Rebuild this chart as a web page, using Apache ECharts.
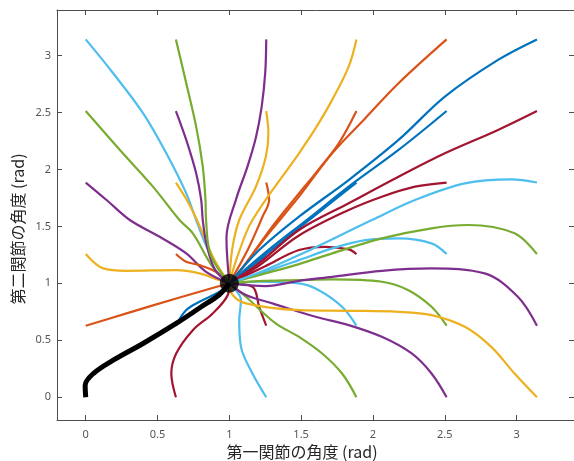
<!DOCTYPE html>
<html>
<head>
<meta charset="utf-8">
<script src="https://cdn.jsdelivr.net/npm/echarts@6/dist/echarts.min.js"></script>
<style>
  html, body { margin: 0; padding: 0; background: #fff; }
  #chart { width: 574px; height: 461px; }
</style>
</head>
<body>
<div id="chart"></div>
<script>
// Joint-angle trajectories of a two-link arm, all settling at the target (1, 1).
const xTicks = [0, 0.5, 1, 1.5, 2, 2.5, 3];
const yTicks = [0, 0.5, 1, 1.5, 2, 2.5, 3];
const xName = '第一関節の角度 (rad)';
const yName = '第二関節の角度 (rad)';
const target = [1, 1];

// Default MATLAB colour order
const palette = ['#0072BD', '#D95319', '#EDB120', '#7E2F8E', '#77AC30', '#4DBEEE', '#A2142F'];

// Highlighted path starting from (0, 0)
const pathMain = [[0,0],[-0.004,0.105],[0.053,0.208],[0.191,0.325],[0.399,0.472],[0.63,0.648],[0.8,0.79],[0.93,0.9],[1,1]];

// Start q1 = 0
const p01 = [[0,0.628],[0.284,0.736],[0.63,0.867],[0.931,0.976],[1,1]];
const p02 = [[0,1.257],[0.122,1.131],[0.284,1.11],[0.63,1.116],[0.792,1.087],[0.931,1.028],[1,1]];
const p03 = [[0,1.885],[0.145,1.732],[0.307,1.556],[0.515,1.409],[0.7,1.263],[0.838,1.101],[1,1]];
const p04 = [[0,2.513],[0.238,2.171],[0.468,1.849],[0.653,1.556],[0.746,1.439],[0.884,1.145],[1,1]];
const p05 = [[0,3.142],[0.191,2.845],[0.399,2.494],[0.561,2.142],[0.7,1.79],[0.769,1.556],[0.85,1.3],[0.95,1.08],[1,1]];
// Start q1 = 0.628
const p06 = [[0.628,0],[0.596,0.208],[0.63,0.384],[0.746,0.589],[0.884,0.736],[0.99,0.9],[1,1]];
const p07 = [[0.628,0.628],[0.7,0.765],[0.792,0.838],[0.931,0.926],[1,1]];
const p08 = [[0.628,1.257],[0.7,1.189],[0.792,1.16],[0.907,1.101],[1,1]];
const p09 = [[0.628,1.885],[0.7,1.74],[0.769,1.571],[0.897,1.204],[1,1]];
const p10 = [[0.628,2.513],[0.7,2.259],[0.769,1.966],[0.804,1.732],[0.815,1.556],[0.84,1.35],[0.9,1.12],[1,1]];
const p11 = [[0.628,3.142],[0.7,2.757],[0.769,2.376],[0.815,2.024],[0.834,1.732],[0.838,1.556],[0.87,1.25],[1,1]];
// Start q1 = 1.257
const p12 = [[1.257,0],[1.161,0.208],[1.081,0.442],[1.069,0.677],[1.081,0.853],[1.046,0.94],[1,1]];
const p13 = [[1.257,0.628],[1.208,0.794],[1.161,0.97],[1,1]];
const p14 = [[1.257,1.257],[1.231,1.221],[1.1,1.1],[1,1]];
const p15 = [[1.257,1.885],[1.277,1.732],[1.231,1.585],[1.13,1.3],[1,1]];
const p16 = [[1.257,2.513],[1.272,2.318],[1.254,2.112],[1.185,1.849],[1.069,1.556],[1.02,1.3],[1,1]];
const p17 = [[1.257,3.142],[1.25,2.85],[1.225,2.55],[1.185,2.28],[1.125,2.02],[1.05,1.75],[0.98,1.4],[1,1]];
// Start q1 = 1.885
const p18 = [[1.885,0],[1.785,0.208],[1.646,0.384],[1.485,0.53],[1.323,0.648],[1.115,0.882],[1,1]];
const p19 = [[1.885,0.628],[1.785,0.794],[1.623,0.94],[1.485,0.999],[1.208,1.014],[1,1]];
const p20 = [[1.885,1.257],[1.831,1.298],[1.67,1.321],[1.485,1.292],[1.25,1.15],[1,1]];
const p21 = [[1.885,1.885],[1.75,1.75],[1.5,1.5],[1.25,1.25],[1,1]];
const p22 = [[1.885,2.513],[1.762,2.23],[1.6,1.966],[1.485,1.79],[1.3,1.5],[1.1,1.15],[1,1]];
const p23 = [[1.885,3.142],[1.831,2.903],[1.716,2.611],[1.6,2.36],[1.485,2.142],[1.161,1.556],[1.06,1.25],[1,1]];
// Start q1 = 2.513
const p24 = [[2.513,0],[2.408,0.208],[2.27,0.384],[2.062,0.53],[1.831,0.633],[1.6,0.706],[1.3,0.824],[1.115,0.897],[1,1]];
const p25 = [[2.513,0.628],[2.408,0.794],[2.247,0.94],[2.062,1.014],[1.716,1.034],[1.485,1.028],[1.2,1.02],[1,1]];
const p26 = [[2.513,1.257],[2.408,1.351],[2.178,1.395],[1.947,1.38],[1.716,1.307],[1.485,1.204],[1.2,1.08],[1,1]];
const p27 = [[2.513,1.885],[2.293,1.849],[2.062,1.761],[1.831,1.644],[1.485,1.42],[1.2,1.15],[1,1]];
const p28 = [[2.513,2.513],[2.178,2.171],[1.831,1.849],[1.554,1.571],[1.25,1.27],[1,1]];
const p29 = [[2.513,3.142],[2.178,2.757],[1.947,2.45],[1.716,2.142],[1.485,1.761],[1.25,1.4],[1.1,1.15],[1,1]];
// Start q1 = 3.142
const p30 = [[3.142,0],[2.986,0.208],[2.824,0.442],[2.64,0.618],[2.408,0.721],[2.178,0.75],[1.831,0.759],[1.485,0.765],[1.115,0.824],[1.023,0.897],[1,1]];
const p31 = [[3.142,0.628],[3.009,0.882],[2.778,1.087],[2.408,1.131],[2.062,1.11],[1.716,1.057],[1.485,1.022],[1.254,0.976],[1,1]];
const p32 = [[3.142,1.257],[2.986,1.439],[2.663,1.512],[2.408,1.483],[2.062,1.395],[1.716,1.263],[1.485,1.169],[1.2,1.07],[1,1]];
const p33 = [[3.142,1.885],[2.963,1.913],[2.64,1.878],[2.293,1.732],[1.993,1.556],[1.485,1.248],[1.2,1.09],[1,1]];
const p34 = [[3.142,2.513],[2.871,2.347],[2.501,2.142],[2.178,1.936],[1.831,1.703],[1.485,1.468],[1.2,1.17],[1,1]];
const p35 = [[3.142,3.142],[2.871,2.962],[2.501,2.64],[2.178,2.259],[1.831,1.907],[1.485,1.585],[1.208,1.292],[1,1]];

// Plot order follows the start grid, so colours cycle through the palette
const paths = [null, p01, p02, p03, p04, p05, p06, p07, p08, p09, p10, p11,
  p12, p13, p14, p15, p16, p17, p18, p19, p20, p21, p22, p23,
  p24, p25, p26, p27, p28, p29, p30, p31, p32, p33, p34, p35];

const series = [];
paths.forEach(function (p, i) {
  if (!p) return;
  series.push({
    type: 'line', data: p, smooth: 0.35, symbol: 'none',
    lineStyle: { color: palette[i % palette.length], width: 2.2 },
    silent: true, animation: false
  });
});
series.push({
  type: 'line', data: pathMain, smooth: 0.35, symbol: 'none',
  lineStyle: { color: '#000', width: 5 }, silent: true, animation: false
});
series.push({
  type: 'scatter', data: [target], symbol: 'circle', symbolSize: 19,
  itemStyle: { color: '#000' }, silent: true, animation: false, z: 5
});

const axisColor = '#4d4d4d';
const labelFont = { fontFamily: 'Noto Sans', fontSize: 11, color: '#555' };
const titleFont = '16px "Noto Sans CJK JP"';

function valueAxis(pos, showLabels, ticks, margin) {
  return {
    type: 'value', position: pos, min: -0.2, max: 3.4,
    axisLine: { show: true, onZero: false, lineStyle: { color: axisColor, width: 1 } },
    axisTick: { show: true, inside: true, length: 5, customValues: ticks, lineStyle: { color: axisColor } },
    axisLabel: Object.assign({ show: showLabels, customValues: ticks, margin: margin || 8 }, labelFont),
    splitLine: { show: false }
  };
}

const chart = echarts.init(document.getElementById('chart'), null, { renderer: 'canvas' });
chart.setOption({
  animation: false,
  grid: { left: 57, right: -2, top: 10, bottom: 41, containLabel: false },
  xAxis: [valueAxis('bottom', true, xTicks, 9), valueAxis('top', false, xTicks)],
  yAxis: [valueAxis('left', true, yTicks, 6), valueAxis('right', false, yTicks)],
  graphic: [
    {
      type: 'text', x: 302, y: 452, silent: true,
      style: { text: xName, font: titleFont, fill: '#262626', textAlign: 'center', textVerticalAlign: 'middle' }
    },
    {
      type: 'text', x: 18, y: 229, rotation: Math.PI / 2, silent: true,
      style: { text: yName, font: titleFont, fill: '#262626', textAlign: 'center', textVerticalAlign: 'middle' }
    }
  ],
  series: series
});
</script>
</body>
</html>
